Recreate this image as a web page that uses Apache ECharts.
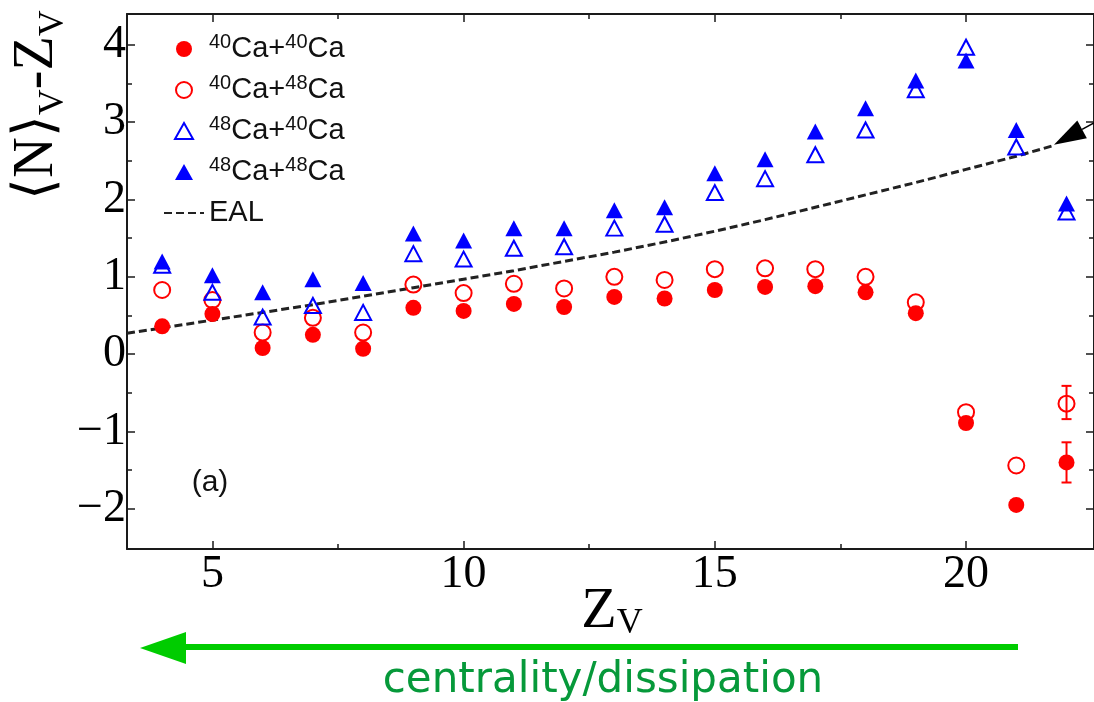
<!DOCTYPE html>
<html><head><meta charset="utf-8">
<script src="https://cdn.jsdelivr.net/npm/echarts@6/dist/echarts.min.js"></script>
<style>html,body{margin:0;padding:0;background:#fff}#c{width:1094px;height:702px}</style>
</head><body><div id="c"></div>
<script>
// ---- data ----
const zv = [4,5,6,7,8,9,10,11,12,13,14,15,16,17,18,19,20,21,22];
const ca40ca40 = [0.36,0.52,0.08,0.25,0.07,0.60,0.56,0.65,0.61,0.74,0.72,0.83,0.87,0.88,0.80,0.53,-0.89,-1.95,-1.40];
const ca40ca48 = [0.83,0.70,0.28,0.47,0.28,0.90,0.79,0.91,0.85,1.00,0.96,1.10,1.11,1.10,1.00,0.67,-0.75,-1.44,-0.64];
const ca48ca40 = [1.15,0.80,0.48,0.63,0.54,1.30,1.23,1.37,1.39,1.63,1.68,2.09,2.27,2.58,2.90,3.42,3.97,2.68,1.84];
const ca48ca48 = [1.20,1.02,0.80,0.97,0.92,1.56,1.47,1.63,1.63,1.86,1.90,2.34,2.52,2.88,3.18,3.54,3.80,2.90,1.95];
const ealZ = [3.3,4,5,6,7,8,9,10,11,12,13,14,15,16,17,18,19,20,21,21.75];
const ealV = [0.27,0.34,0.44,0.54,0.64,0.75,0.86,0.97,1.08,1.20,1.32,1.45,1.59,1.74,1.90,2.06,2.22,2.39,2.56,2.70];
const errZ = [22];
const err4040Lo = [-1.66], err4040Hi = [-1.14];
const err4048Lo = [-0.84], err4048Hi = [-0.41];
const xMajor = [5,10,15,20];
const xMinor = [7.5,12.5,17.5];
const yMajor = [-2,-1,0,1,2,3,4];
const yMinor = [-1.5,-0.5,0.5,1.5,2.5,3.5];
const seriesNames = ['40Ca+40Ca','40Ca+48Ca','48Ca+40Ca','48Ca+48Ca','EAL'];
const arrowTip = [21.75, 2.71];
const arrowTail = [23.14, 3.20];

const X_MIN = 3.3, X_MAX = 22.547, Y_MIN = -2.52, Y_MAX = 4.40;
const RED = '#ff0000', BLUE = '#0000ff', AX = '#1a1a1a';
const TRI_ICON = 'path://M9,0 L18,16 L0,16 Z';

const pairs = (xs, ys) => xs.map((x, i) => [x, ys[i]]);
const triples = (xs, a, b) => xs.map((x, i) => [x, a[i], b[i]]);

const chart = echarts.init(document.getElementById('c'), null, {renderer: 'canvas'});

const fmt = v => (v < 0 ? '\u2212' + Math.abs(v) : String(v));
function xAx(pos, ticks, len, showLine, labels) {
  return {
    type: 'value', min: X_MIN, max: X_MAX, position: pos, gridIndex: 0,
    splitLine: {show: false},
    axisLine: {show: showLine, onZero: false, lineStyle: {color: AX, width: 2}},
    axisTick: {show: true, inside: true, length: len, customValues: ticks, lineStyle: {color: AX, width: 1.5}},
    axisLabel: labels ? {customValues: xMajor, margin: 3, fontFamily: 'Liberation Serif', fontSize: 46, color: '#000'} : {show: false}
  };
}
function yAx(pos, ticks, len, showLine, labels) {
  return {
    type: 'value', min: Y_MIN, max: Y_MAX, position: pos, gridIndex: 0,
    splitLine: {show: false},
    axisLine: {show: showLine, onZero: false, lineStyle: {color: AX, width: 2}},
    axisTick: {show: true, inside: true, length: len, customValues: ticks, lineStyle: {color: AX, width: 1.5}},
    axisLabel: labels ? {customValues: yMajor, margin: 1, fontFamily: 'Liberation Serif', fontSize: 46, color: '#000', formatter: fmt} : {show: false}
  };
}

function errRender(color) {
  return function (params, api) {
    const x = api.value(0);
    const lo = api.coord([x, api.value(1)]);
    const hi = api.coord([x, api.value(2)]);
    const w = 5;
    const st = {stroke: color, lineWidth: 2};
    return {type: 'group', children: [
      {type: 'line', shape: {x1: lo[0], y1: lo[1], x2: hi[0], y2: hi[1]}, style: st},
      {type: 'line', shape: {x1: lo[0] - w, y1: lo[1], x2: lo[0] + w, y2: lo[1]}, style: st},
      {type: 'line', shape: {x1: hi[0] - w, y1: hi[1], x2: hi[0] + w, y2: hi[1]}, style: st}
    ]};
  };
}

const option = {
  animation: false,
  backgroundColor: '#fff',
  grid: {left: 127, top: 14, width: 972, height: 535, containLabel: false},
  xAxis: [
    xAx('bottom', xMajor, 8, true, true),
    xAx('bottom', xMinor, 5, false, false),
    xAx('top', xMajor, 8, true, false),
    xAx('top', xMinor, 5, false, false)
  ],
  yAxis: [
    yAx('left', yMajor, 8, true, true),
    yAx('left', yMinor, 5, false, false),
    yAx('right', yMajor, 8, true, false),
    yAx('right', yMinor, 5, false, false)
  ],
  legend: {
    orient: 'vertical', left: 158, top: 27,
    itemWidth: 40, itemHeight: 16, itemGap: 7,
    symbolKeepAspect: true,
    data: [
      {name: seriesNames[0], icon: 'circle'},
      {name: seriesNames[1], icon: 'circle'},
      {name: seriesNames[2], icon: TRI_ICON},
      {name: seriesNames[3], icon: TRI_ICON},
      {name: seriesNames[4], itemStyle: {color: 'rgba(0,0,0,0)', borderWidth: 0, borderColor: 'rgba(0,0,0,0)'}}
    ],
    formatter: n => n.replace(/(\d+)/g, '{sup|$1}'),
    textStyle: {
      fontFamily: 'Liberation Sans', fontSize: 29, color: '#111', lineHeight: 34,
      rich: {sup: {fontFamily: 'Liberation Sans', fontSize: 20, color: '#111', lineHeight: 10, verticalAlign: 'top'}}
    }
  },
  series: [
    {name: 'EAL', type: 'line', data: pairs(ealZ, ealV), symbol: 'none', clip: true,
     lineStyle: {color: '#222', width: 3, type: [8, 4]}, itemStyle: {color: '#222'}, z: 2},
    {name: seriesNames[0], type: 'scatter', data: pairs(zv, ca40ca40), symbol: 'circle', symbolSize: 16,
     itemStyle: {color: RED, opacity: 1}, z: 3},
    {name: seriesNames[1], type: 'scatter', data: pairs(zv, ca40ca48), symbol: 'circle', symbolSize: 16,
     itemStyle: {color: 'rgba(255,255,255,0)', borderColor: RED, borderWidth: 2, opacity: 1}, z: 3},
    {name: seriesNames[2], type: 'scatter', data: pairs(zv, ca48ca40), symbol: 'triangle', symbolSize: [16, 15],
     itemStyle: {color: 'rgba(255,255,255,0)', borderColor: BLUE, borderWidth: 2, opacity: 1}, z: 3},
    {name: seriesNames[3], type: 'scatter', data: pairs(zv, ca48ca48), symbol: 'triangle', symbolSize: [17, 16],
     itemStyle: {color: BLUE, opacity: 1}, z: 3},
    {type: 'custom', data: triples(errZ, err4040Lo, err4040Hi), renderItem: errRender(RED), encode: {x: 0, y: [1, 2]}, z: 3, silent: true},
    {type: 'custom', data: triples(errZ, err4048Lo, err4048Hi), renderItem: errRender(RED), encode: {x: 0, y: [1, 2]}, z: 3, silent: true}
  ]
};
chart.setOption(option);

// annotations (positions derived from data coordinates where relevant)
const tip = chart.convertToPixel({gridIndex: 0}, arrowTip);
const tail = chart.convertToPixel({gridIndex: 0}, arrowTail);
const dx = tail[0] - tip[0], dy = tail[1] - tip[1];
const L = Math.hypot(dx, dy), ux = dx / L, uy = dy / L;
const hl = 32, hw = 10;
const bx = tip[0] + ux * hl, by = tip[1] + uy * hl;

chart.setOption({
  graphic: [
    {type: 'line', shape: {x1: bx, y1: by, x2: tail[0], y2: tail[1]}, style: {stroke: '#000', lineWidth: 1.5}, z: 10},
    {type: 'polygon', shape: {points: [[tip[0], tip[1]], [bx - uy * hw, by + ux * hw], [bx + uy * hw, by - ux * hw]]}, style: {fill: '#000'}, z: 10},
    {type: 'text', x: 210, y: 483, style: {text: '(a)', fontFamily: 'Liberation Sans', fontSize: 30, fill: '#111', align: 'center', verticalAlign: 'middle'}, z: 10},
    {type: 'text', x: 37, y: 105, rotation: Math.PI / 2,
     style: {text: '\u27E8N\u27E9{sub|V}-Z{sub|V}', fontFamily: 'Liberation Serif', fontSize: 56, lineHeight: 70, fill: '#000',
             align: 'center', verticalAlign: 'middle',
             rich: {sub: {fontFamily: 'Liberation Serif', fontSize: 36, lineHeight: 12, verticalAlign: 'bottom', fill: '#000'}}}, z: 10},
    {type: 'text', x: 612, y: 612,
     style: {text: 'Z{sub|V}', fontFamily: 'Liberation Serif', fontSize: 58, lineHeight: 60, fill: '#000',
             align: 'center', verticalAlign: 'middle',
             rich: {sub: {fontFamily: 'Liberation Serif', fontSize: 36, lineHeight: 30, verticalAlign: 'bottom', fill: '#000'}}}, z: 10},
    {type: 'line', shape: {x1: 1018, y1: 647, x2: 180, y2: 647}, style: {stroke: '#00cc00', lineWidth: 6}, z: 10},
    {type: 'polygon', shape: {points: [[140, 648], [186, 632], [186, 664]]}, style: {fill: '#00cc00'}, z: 10},
    {type: 'text', x: 603, y: 681, style: {text: 'centrality/dissipation', fontFamily: 'DejaVu Sans', fontSize: 42, fill: '#06993a', align: 'center', verticalAlign: 'middle'}, z: 10}
  ]
});
</script></body></html>
